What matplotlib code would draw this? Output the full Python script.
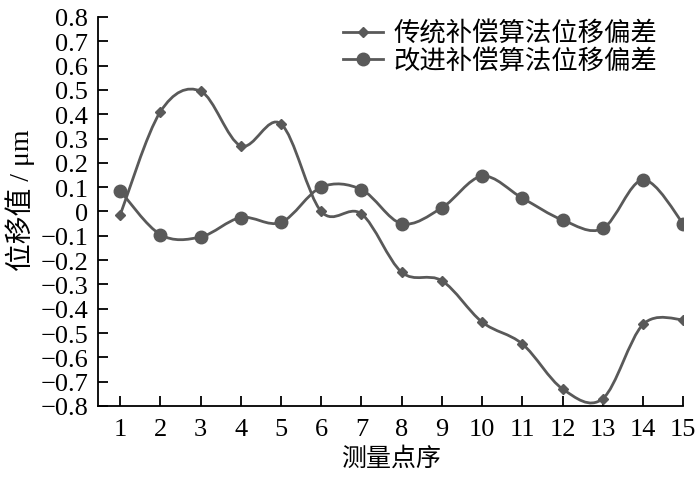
import numpy as np
import matplotlib
matplotlib.use("Agg")
import matplotlib.pyplot as plt
from matplotlib.path import Path
from matplotlib.patches import PathPatch

points = [1, 2, 3, 4, 5, 6, 7, 8, 9, 10, 11, 12, 13, 14, 15]
traditional = [-0.015, 0.41, 0.495, 0.27, 0.36, 0.0, -0.01, -0.25, -0.285,
               -0.455, -0.545, -0.73, -0.77, -0.465, -0.445]
improved = [0.085, -0.095, -0.105, -0.025, -0.045, 0.10, 0.09, -0.05, 0.015,
            0.145, 0.055, -0.035, -0.07, 0.13, -0.05]
labels = ["传统补偿算法位移偏差", "改进补偿算法位移偏差"]
yticks = [round(v, 1) for v in np.arange(-0.8, 0.81, 0.1)]

fonts = ["Liberation Serif", "Noto Sans CJK SC"]
plt.rcParams["font.family"] = fonts
plt.rcParams["axes.unicode_minus"] = True

color = "#595959"


def smooth_path(x, y, tension=1 / 6):
    # bezier segments like a spreadsheet "smoothed line"
    x = np.asarray(x, float)
    y = np.asarray(y, float)
    n = len(x)
    verts = [(x[0], y[0])]
    codes = [Path.MOVETO]
    for i in range(n - 1):
        p0 = (x[i - 1], y[i - 1]) if i > 0 else (x[i], y[i])
        p1 = (x[i], y[i])
        p2 = (x[i + 1], y[i + 1])
        p3 = (x[i + 2], y[i + 2]) if i + 2 < n else (x[i + 1], y[i + 1])
        c1 = (p1[0] + (p2[0] - p0[0]) * tension, p1[1] + (p2[1] - p0[1]) * tension)
        c2 = (p2[0] - (p3[0] - p1[0]) * tension, p2[1] - (p3[1] - p1[1]) * tension)
        verts += [c1, c2, p2]
        codes += [Path.CURVE4] * 3
    return Path(verts, codes)


fig = plt.figure(figsize=(7, 4.81), dpi=100)
ax = fig.add_axes([0.14, 0.154, 0.836, 0.8086])

for vals, marker, ms, lab in [(traditional, "D", 5.5, labels[0]),
                              (improved, "o", 9, labels[1])]:
    ax.add_patch(PathPatch(smooth_path(points, vals), facecolor="none",
                           edgecolor=color, lw=2))
    ax.plot(points, vals, linestyle="none", marker=marker, ms=ms, color=color)
    ax.plot([], [], color=color, lw=2, marker=marker, ms=ms, label=lab)

ax.set_xlim(0.45, 15)
ax.set_ylim(-0.8, 0.8)
ax.set_xticks(points)
ax.set_yticks(yticks)
ax.set_yticklabels(["0" if v == 0 else f"{v:.1f}".replace("-", "\u2212") for v in yticks])
ax.tick_params(direction="in", length=7, width=1.3, labelsize=19)
ax.tick_params(axis="x", pad=9)
ax.tick_params(axis="y", pad=7)
for side in ["top", "right"]:
    ax.spines[side].set_visible(False)
for side in ["left", "bottom"]:
    ax.spines[side].set_linewidth(1.3)

ax.set_xlabel("测量点序", fontsize=18, labelpad=4)
ax.set_ylabel("位移值 / μm", fontsize=20)
ax.yaxis.set_label_coords(-0.108, 0.532)
ax.legend(loc="upper left", bbox_to_anchor=(0.419, 0.99), frameon=False,
          fontsize=19, handlelength=1.5, handletextpad=0.4, labelspacing=0.1,
          borderaxespad=0, borderpad=0)

fig.savefig("out.png", dpi=100)
